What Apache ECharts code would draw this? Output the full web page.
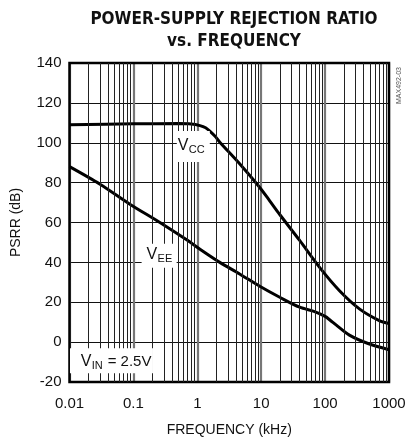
<!DOCTYPE html>
<html>
<head>
<meta charset="utf-8">
<script src="https://cdn.jsdelivr.net/npm/echarts@6/dist/echarts.min.js"></script>
<style>html,body{margin:0;padding:0;background:#fff}#c{width:415px;height:443px}</style>
</head>
<body>
<div id="c"></div>
<script>
// Data
const freqVcc = [0.01, 0.1, 0.5, 0.8, 1.1, 1.35, 1.6, 1.9, 2.25, 4.6, 9.1, 13.5, 19.5, 40, 82, 168, 344, 704, 1000];
const vcc     = [109, 109.5, 109.6, 109.4, 108.6, 107.5, 105.6, 103.2, 100.3, 89.5, 78.3, 71, 64, 51, 37.5, 25.8, 16.7, 10.8, 9.3];
const freqVee = [0.01, 0.03, 0.088, 0.26, 0.72, 1.09, 2.25, 4.6, 9.5, 19.5, 40, 70, 100, 120, 150, 240, 470, 1000];
const vee     = [88, 79.2, 69.2, 60, 50.8, 46.7, 40, 34.2, 28, 22.5, 17.5, 15.2, 12.9, 11, 8.5, 3.5, -0.7, -3.8];
const xTickLabels = ['0.01', '0.1', '1', '10', '100', '1000'];
const yTicks = [-20, 0, 20, 40, 60, 80, 100, 120, 140];
const minorFreqs = [];
[0.01, 0.1, 1, 10, 100].forEach(d => { for (let k = 2; k <= 9; k++) minorFreqs.push(+(d * k).toPrecision(3)); });

const FONT = "'Liberation Sans', Arial, sans-serif";
const chart = echarts.init(document.getElementById('c'), null, {renderer: 'canvas'});
const pair = (xs, ys) => xs.map((x, i) => [x, ys[i]]);

chart.setOption({
  animation: false,
  backgroundColor: '#fff',
  title: {
    text: 'POWER-SUPPLY REJECTION RATIO\nvs. FREQUENCY',
    left: 229, top: 4, textAlign: 'center',
    textStyle: {fontFamily: "'Liberation Sans Narrow', 'DejaVu Sans Condensed', sans-serif", fontWeight: 'bold', fontSize: 17, lineHeight: 22, color: '#111'}
  },
  grid: {left: 69.5, right: 26, top: 63, bottom: 61, show: true, borderColor: '#000', borderWidth: 2.5, z: 5},
  xAxis: {
    type: 'log', logBase: 10, min: 0.01, max: 1000,
    name: 'FREQUENCY (kHz)', nameLocation: 'middle', nameGap: 41,
    nameTextStyle: {fontFamily: FONT, fontSize: 14, color: '#111'},
    axisLine: {show: false}, axisTick: {show: false},
    axisLabel: {fontFamily: FONT, fontSize: 15, color: '#111', margin: 14,
      formatter: v => { const s = xTickLabels.find(t => Math.abs(parseFloat(t) - v) / v < 1e-6); return s || ''; }},
    splitLine: {show: true, lineStyle: {color: '#777', width: 2.2}}
  },
  yAxis: {
    type: 'value', min: yTicks[0], max: yTicks[yTicks.length - 1], interval: 20,
    name: 'PSRR (dB)', nameLocation: 'middle', nameGap: 46,
    nameTextStyle: {fontFamily: FONT, fontSize: 14, color: '#111'},
    axisLine: {show: false}, axisTick: {show: false},
    axisLabel: {fontFamily: FONT, fontSize: 15, color: '#111', margin: 8},
    splitLine: {show: true, lineStyle: {color: '#111', width: 1}}
  },
  series: [
    {
      type: 'line', data: [], silent: true,
      markLine: {silent: true, symbol: 'none', label: {show: false},
        lineStyle: {color: '#222', width: 1, type: 'solid'},
        data: minorFreqs.map(f => ({xAxis: f}))}
    },
    {type: 'line', name: 'VCC', data: pair(freqVcc, vcc), smooth: 0.3, symbol: 'none',
      lineStyle: {color: '#000', width: 3}, z: 3},
    {type: 'line', name: 'VEE', data: pair(freqVee, vee), smooth: 0.3, symbol: 'none',
      lineStyle: {color: '#000', width: 3}, z: 3}
  ]
});

function lbl(f, v, parts, box) {
  const p = chart.convertToPixel({xAxisIndex: 0, yAxisIndex: 0}, [f, v]);
  return {
    type: 'group', x: p[0], y: p[1], z: 10,
    children: [{type: 'rect', shape: {x: box[0], y: box[1], width: box[2], height: box[3]}, style: {fill: '#fff'}, z: 10}]
      .concat(parts.map(q => ({type: 'text', x: q[1], y: q[2], z: 11,
        style: {text: q[0], font: q[3] + 'px ' + FONT, fill: '#111', textVerticalAlign: 'middle'}})))
  };
}
chart.setOption({
  graphic: [
    lbl(0.495, 98.35, [['V', 0, 0, 16], ['CC', 11, 4, 11]], [-1, -15, 33, 31]),
    lbl(0.161, 43.85, [['V', 0, 0, 16], ['EE', 11, 4, 11]], [-5, -11, 35, 24]),
    lbl(0.01496, -9.9, [['V', 0, 0, 16], ['IN', 11, 4, 11], ['= 2.5V', 27, 0, 15]], [-10.7, -13.5, 83, 25]),
    {type: 'text', x: 396, y: 104, rotation: Math.PI / 2, z: 10,
      style: {text: 'MAX492-03', font: '7px ' + FONT, fill: '#555', textVerticalAlign: 'top'}}
  ]
});
</script>
</body>
</html>
